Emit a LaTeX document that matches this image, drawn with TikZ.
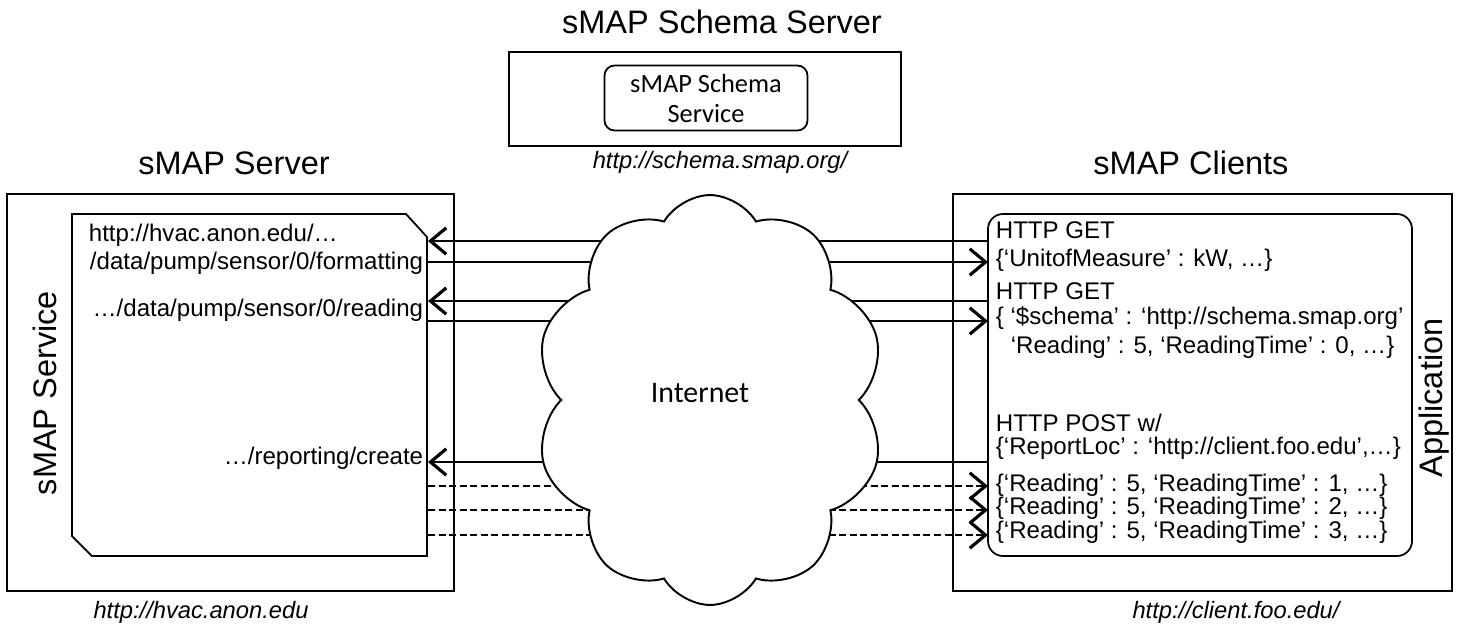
\documentclass[tikz,border=0pt]{standalone}
\usepackage{fontspec}
\setmainfont{Liberation Sans}
\newfontfamily\calfont{Carlito}
\usetikzlibrary{arrows.meta,shapes.symbols}

\begin{document}
\begin{tikzpicture}[x=0.02cm, y=-0.02cm, line width=1pt,
    title/.style={font=\fontsize{18.5}{21}\selectfont},
    txt/.style={font=\fontsize{13.7}{16}\selectfont, inner sep=0pt},
    url/.style={font=\itshape\fontsize{13.5}{16}\selectfont},
    calib/.style={font=\calfont\fontsize{15}{17}\selectfont, align=center},
    pull/.style={line width=1.2pt, -{Straight Barb[length=9pt, width=15pt, line width=1.8pt]}},
    push/.style={pull, dash pattern=on 4pt off 2pt}]
  \useasboundingbox (0,0) rectangle (1458,630);

  % schema server
  \node[title] (schematitle) at (722,22) {sMAP Schema Server};
  \draw (509,52) rectangle (901,146);
  \node[draw, rounded corners=0.2cm, minimum width=4.06cm, minimum height=1.3cm, calib]
    (schema) at (706,98) {sMAP Schema\\Service};
  \node[url] (schemaurl) at (720,162) {http://schema.smap.org/};

  % end points of the messages
  \foreach \y [count=\i] in {241,262,301,321,462,486,510,535} {
    \coordinate (s\i) at (428,\y);
    \coordinate (c\i) at (988,\y);
  }
  \draw[pull] (c1) -- (s1);
  \draw[pull] (s2) -- (c2);
  \draw[pull] (c3) -- (s3);
  \draw[pull] (s4) -- (c4);
  \draw[pull] (c5) -- (s5);
  \foreach \i in {6,7,8}
    \draw[push] (s\i) -- (c\i);

  % internet
  \node[cloud, draw, fill=white, line width=1.1pt, cloud puffs=10, cloud puff arc=120,
    cloud ignores aspect, minimum width=7cm, minimum height=8.2cm] (net) at (710,400) {};
  \node[font=\calfont\fontsize{17}{20}\selectfont] (nettxt) at (700,393) {Internet};

  % server side
  \node[title] (srvtitle) at (234,163) {sMAP Server};
  \draw (7,194) rectangle (454,591);
  \draw (72,214) -- (406,214) -- (427,237) -- (427,556) -- (92,556) -- (72,536) -- cycle;
  \node[title, rotate=90] (service) at (45,393) {sMAP Service};
  \node[txt, anchor=west] (hvac) at (88,235) {http://hvac.anon.edu/…};
  \node[txt, anchor=east] (fmt) at (424,263) {/data/pump/sensor/0/formatting};
  \node[txt, anchor=east] (rd) at (424,310) {…/data/pump/sensor/0/reading};
  \node[txt, anchor=east] (rep) at (424,458) {…/reporting/create};
  \node[url] (srvurl) at (201,612) {http://hvac.anon.edu};

  % client side
  \node[title] (clititle) at (1191,163) {sMAP Clients};
  \draw (953,194) rectangle (1452,591);
  \draw[rounded corners=0.3cm] (988,214) rectangle (1412,556);
  \node[title, rotate=90] (app) at (1434,398) {Application};
  \node[txt, anchor=west] (get1) at (995,230) {HTTP GET};
  \node[txt, anchor=west] (unit) at (995,260) {\{‘UnitofMeasure’ : kW, …\}};
  \node[txt, anchor=west] (get2) at (995,291) {HTTP GET};
  \node[txt, anchor=west] (sch) at (995,318) {\{ ‘\$schema’ : ‘http://schema.smap.org’};
  \node[txt, anchor=west] (rd0) at (1010,347) {‘Reading’ : 5, ‘ReadingTime’ : 0, …\}};
  \node[txt, anchor=west] (post) at (995,423) {HTTP POST w/};
  \node[txt, anchor=west] (loc) at (995,448) {\{‘ReportLoc’ : ‘http://client.foo.edu’,…\}};
  \node[txt, anchor=west] (rd1) at (995,485) {\{‘Reading’ : 5, ‘ReadingTime’ : 1, …\}};
  \node[txt, anchor=west] (rd2) at (995,508) {\{‘Reading’ : 5, ‘ReadingTime’ : 2, …\}};
  \node[txt, anchor=west] (rd3) at (995,532) {\{‘Reading’ : 5, ‘ReadingTime’ : 3, …\}};
  \node[url] (cliurl) at (1236,612) {http://client.foo.edu/};
\end{tikzpicture}
\end{document}
